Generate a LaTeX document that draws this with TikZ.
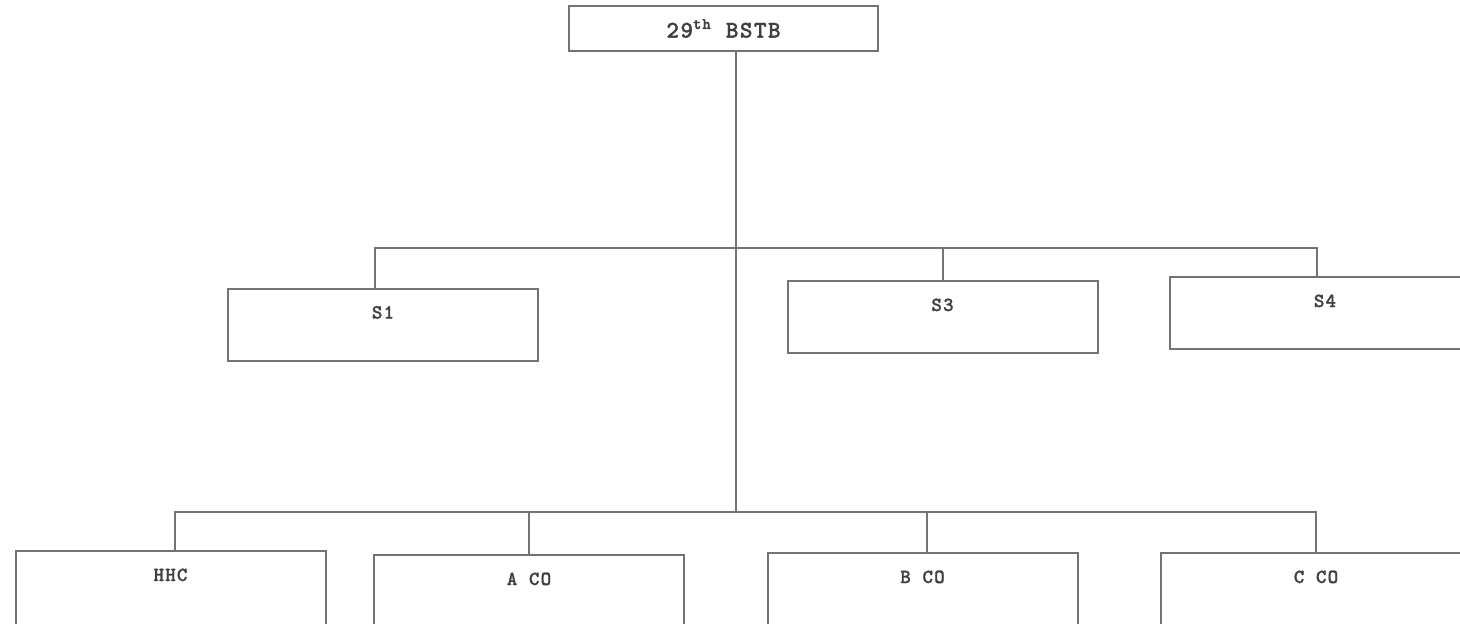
\documentclass[tikz,border=0pt]{standalone}
\usepackage{fontspec}
\usepackage{tikz}
\usetikzlibrary{positioning}
\newfontfamily\orgfont{lmmonolt10-bold}[Extension=.otf,LetterSpace=6,FakeBold=1.2]
\definecolor{linegray}{gray}{0.45}
\definecolor{textgray}{gray}{0.25}
\tikzstyle{topbox}=[rectangle,draw=linegray,line width=1pt,minimum width=154.5pt,minimum height=22.5pt,inner sep=0pt,text=textgray,font=\orgfont\fontsize{12}{14}\selectfont]
\tikzstyle{orgbox}=[rectangle,draw=linegray,line width=1pt,minimum width=155pt,inner xsep=0pt,inner ysep=0pt,text height=15pt,text depth=21pt,text=textgray,font=\orgfont\fontsize{10}{12}\selectfont]
\tikzstyle{cobox}=[orgbox,text depth=40pt]
\tikzstyle{orgline}=[draw=linegray,line width=1pt]

\begin{document}
\begin{tikzpicture}[x=0.5pt,y=-0.5pt,orgline]
\clip (0,0) rectangle (1460,623);
\node[topbox] (bstb) at (723.5,28.5) {29\textsuperscript{th} BSTB};
\node[orgbox] (s1) at (383,324.5) {S1};
\node[orgbox] (s3) at (942.5,317) {S3};
\node[orgbox] (s4) at (1325,313) {S4};
\node[cobox] (hhc) at (170.5,606) {HHC};
\node[cobox] (aco) at (529,610) {A CO};
\node[cobox] (bco) at (922.5,608) {B CO};
\node[cobox] (cco) at (1316,608) {C CO};
\coordinate (ubus) at (736,248);
\coordinate (lbus) at (736,512);
\draw (lbus |- bstb.south) -- (lbus);
\draw ([xshift=-4pt]s1.north) |- (ubus) -| ([xshift=-4pt]s4.north);
\draw (s3.north) -- (s3.north |- ubus);
\draw ([xshift=2pt]hhc.north) |- (lbus) -| (cco.north);
\draw (aco.north) -- (aco.north |- lbus);
\draw ([xshift=2pt]bco.north) -- ([xshift=2pt]bco.north |- lbus);
\end{tikzpicture}
\end{document}
